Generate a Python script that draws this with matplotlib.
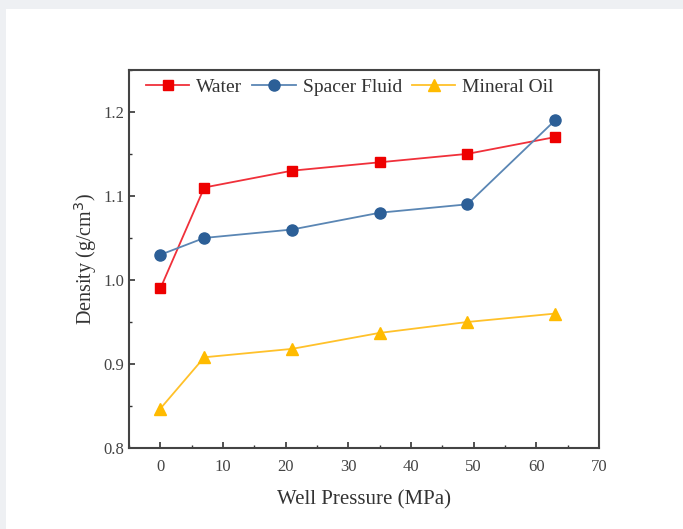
import matplotlib.pyplot as plt
from matplotlib.patches import Rectangle
from matplotlib.ticker import MultipleLocator

plt.rcParams["font.family"] = ["Liberation Serif", "DejaVu Serif"]

# Data
pressure = [0, 7, 21, 35, 49, 63]
water = [0.99, 1.11, 1.13, 1.14, 1.15, 1.17]
spacer_fluid = [1.03, 1.05, 1.06, 1.08, 1.09, 1.19]
mineral_oil = [0.847, 0.908, 0.918, 0.937, 0.950, 0.960]

fig = plt.figure(figsize=(6.83, 5.29), dpi=100, facecolor="#eef0f3")
# white page with a thin grey margin at top and left
fig.patches.append(Rectangle((6 / 683, 0), 1, 1 - 9 / 529, transform=fig.transFigure,
                             facecolor="white", edgecolor="none", zorder=-5))

ax = fig.add_axes([0.189, 0.153, 0.688, 0.715])
ax.set_zorder(2)
ax.plot(pressure, water, color="#f0303a", marker="s", markersize=7.5,
        markerfacecolor="#ee0000", markeredgecolor="#ee0000", linewidth=1.3, label="Water")
ax.plot(pressure, spacer_fluid, color="#5a86b4", marker="o", markersize=8,
        markerfacecolor="#2c5f97", markeredgecolor="#2c5f97", linewidth=1.3, label="Spacer Fluid")
ax.plot(pressure, mineral_oil, color="#ffc12a", marker="^", markersize=9,
        markerfacecolor="#ffbb00", markeredgecolor="#ffbb00", linewidth=1.3, label="Mineral Oil")

ax.set_xlim(-5, 70)
ax.set_ylim(0.8, 1.25)
ax.xaxis.set_major_locator(MultipleLocator(10))
ax.xaxis.set_minor_locator(MultipleLocator(5))
ax.yaxis.set_major_locator(MultipleLocator(0.1))
ax.yaxis.set_minor_locator(MultipleLocator(0.05))
ax.tick_params(which="both", direction="in", colors="#333333", labelcolor="#444444",
               labelsize=12, top=False, right=False)
ax.tick_params(which="major", length=4, width=1.2)
ax.tick_params(which="minor", length=2, width=1)
ax.tick_params(axis="x", which="major", pad=8)
for s in ax.spines.values():
    s.set_color("#444444")
    s.set_linewidth(1.5)

ax.set_xlabel("Well Pressure (MPa)", fontsize=15, color="#333333", labelpad=11)
ax.set_ylabel("Density (g/cm$^3$)", fontsize=14.5, color="#333333", labelpad=3)

ax.legend(loc="upper left", bbox_to_anchor=(0.0064, 1.013), ncol=3, frameon=False,
          fontsize=14, handlelength=2.25, handletextpad=0.35, columnspacing=0.5,
          borderaxespad=0.3, labelcolor="#333333")

fig.savefig("out.png", dpi=100, facecolor=fig.get_facecolor())
